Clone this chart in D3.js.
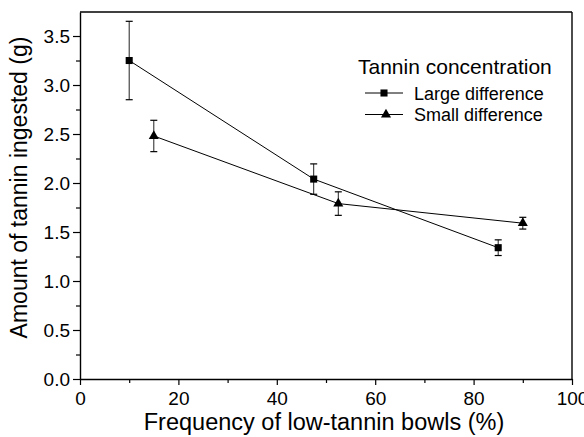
<!DOCTYPE html>
<html><head><meta charset="utf-8">
<script src="https://cdn.jsdelivr.net/npm/d3@7"></script>
<style>body{margin:0;background:#fff;} svg{display:block;} text{font-family:"Liberation Sans",Arial,sans-serif;fill:#000;}</style>
</head><body><svg id="c" width="584" height="437"></svg>
<script>
const xTicks = [0,20,40,60,80,100];
const yTicks = [0.0,0.5,1.0,1.5,2.0,2.5,3.0,3.5];
const largeX = [10, 47.5, 85];
const largeY = [3.25, 2.04, 1.34];
const largeErr = [0.40, 0.155, 0.08];
const smallX = [15, 52.5, 90];
const smallY = [2.48, 1.79, 1.59];
const smallErr = [0.16, 0.12, 0.06];
const seriesNames = ["Large difference", "Small difference"];
const legendTitle = "Tannin concentration";
const xTitle = "Frequency of low-tannin bowls (%)";
const yTitle = "Amount of tannin ingested (g)";

const svg = d3.select("#c");
const L=80, R=572, T=12, B=379;
const x = d3.scaleLinear().domain([0,100]).range([L,R]);
const y = d3.scaleLinear().domain([0,3.745]).range([B,T]);

// frame
svg.append("line").attr("x1",L).attr("x2",R).attr("y1",T).attr("y2",T).attr("stroke","#000").attr("stroke-width",1.4);
svg.append("line").attr("x1",R).attr("x2",R).attr("y1",T).attr("y2",B).attr("stroke","#000").attr("stroke-width",1.4);

// axes
const xMinor = d3.range(10,100,20);
const yMinor = d3.range(0.25,3.75,0.5);
const gx = svg.append("g").attr("transform",`translate(0,${B})`);
gx.call(d3.axisBottom(x).tickValues(xTicks).tickFormat(d3.format("d")).tickSize(6).tickSizeOuter(0).tickPadding(6.5));
gx.append("g").call(d3.axisBottom(x).tickValues(xMinor).tickFormat("").tickSize(4)).select(".domain").remove();
const gy = svg.append("g").attr("transform",`translate(${L},0)`);
gy.call(d3.axisLeft(y).tickValues(yTicks).tickFormat(d3.format(".1f")).tickSize(7).tickSizeOuter(0).tickPadding(3));
gy.append("g").call(d3.axisLeft(y).tickValues(yMinor).tickFormat("").tickSize(4)).select(".domain").remove();
svg.selectAll(".domain").attr("stroke-width",1.4);
svg.selectAll(".tick line").attr("stroke-width",1.2);
gx.selectAll("text").style("font-size","19px").attr("fill","#000");
gy.selectAll("text").style("font-size","19px").attr("fill","#000");

// titles
svg.append("text").attr("x",(L+R)/2-2).attr("y",430).attr("text-anchor","middle").style("font-size","23.5px").text(xTitle);
svg.append("text").attr("transform",`translate(27,${(T+B)/2-8}) rotate(-90)`).attr("text-anchor","middle").style("font-size","23px").text(yTitle);

const series = [
  {xs:largeX, ys:largeY, es:largeErr, shape:d3.symbolSquare, size:50},
  {xs:smallX, ys:smallY, es:smallErr, shape:d3.symbolTriangle, size:44}
];
series.forEach(s=>{
  const pts = s.xs.map((v,i)=>({x:v,y:s.ys[i],e:s.es[i]}));
  svg.append("path").datum(pts).attr("fill","none").attr("stroke","#000").attr("stroke-width",1)
     .attr("d", d3.line().x(d=>x(d.x)).y(d=>y(d.y)));
  const g = svg.append("g");
  pts.forEach(d=>{
    g.append("line").attr("x1",x(d.x)).attr("x2",x(d.x)).attr("y1",y(d.y-d.e)).attr("y2",y(d.y+d.e)).attr("stroke","#222").attr("stroke-width",1);
    [d.y-d.e,d.y+d.e].forEach(v=>g.append("line").attr("x1",x(d.x)-3.5).attr("x2",x(d.x)+3.5).attr("y1",y(v)).attr("y2",y(v)).attr("stroke","#000").attr("stroke-width",1.2));
    g.append("path").attr("d",d3.symbol().type(s.shape).size(s.size)()).attr("transform",`translate(${x(d.x)},${y(d.y)})`).attr("fill","#000");
  });
});

// legend
svg.append("text").attr("x",358).attr("y",74).style("font-size","21px").text(legendTitle);
series.forEach((s,i)=>{
  const ly = 93 + i*21.5;
  svg.append("line").attr("x1",365).attr("x2",403).attr("y1",ly).attr("y2",ly).attr("stroke","#000").attr("stroke-width",1);
  svg.append("path").attr("d",d3.symbol().type(s.shape).size(s.size)()).attr("transform",`translate(${384+i*2},${ly})`).attr("fill","#000");
  svg.append("text").attr("x",414).attr("y",ly+6.5).style("font-size","18px").text(seriesNames[i]);
});
</script></body></html>
